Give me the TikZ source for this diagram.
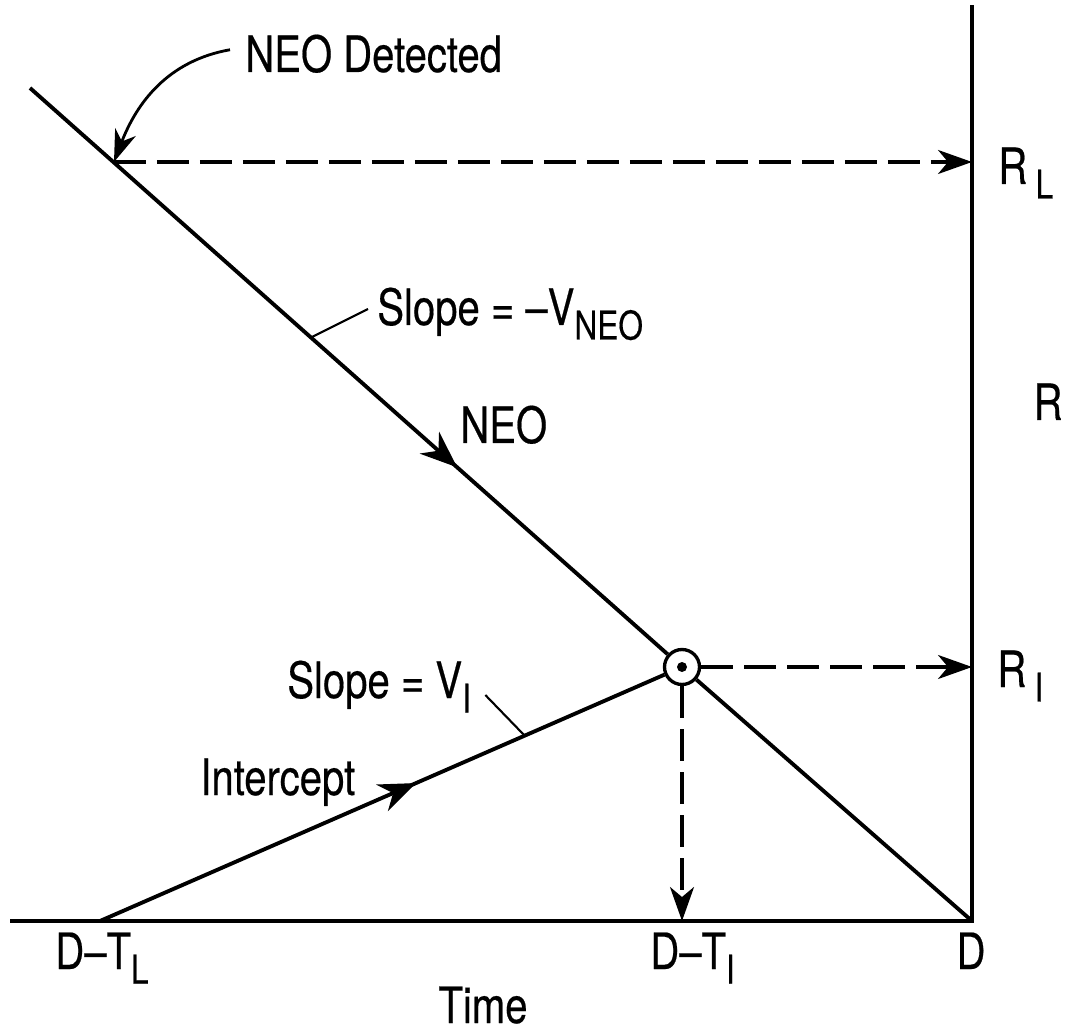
\documentclass[tikz,border=0pt]{standalone}
\usepackage{fontspec}
\setmainfont{TeX Gyre Heros}[FakeStretch=0.8,FakeBold=0.4]
\usetikzlibrary{arrows.meta,decorations.markings}
\newcommand{\lowsub}[1]{\raisebox{-0.29cm}{\fontsize{22.5}{26}\selectfont #1}}

\begin{document}
\begin{tikzpicture}[x=0.02cm,y=0.02cm,
    lbl/.style={font=\fontsize{28.5}{34}\selectfont,inner sep=0pt},
    track/.style={line width=2.2pt},
    axis/.style={line width=1.8pt},
    guide/.style={line width=1.9pt,dash pattern=on 0.64cm off 0.22cm},
    leader/.style={line width=1.2pt},
    tip/.style={-{Stealth[length=0.68cm,width=0.48cm,inset=0.2cm]}},
    midarrow/.style={postaction={decorate},decoration={markings,
      mark=at position #1 with {\arrow{Stealth[length=0.74cm,width=0.58cm,inset=0.24cm]}}}}]
  \useasboundingbox (0,0) rectangle (1067,1035);
  % axes
  \coordinate (top) at (972,1030);
  \coordinate (left) at (10,114);
  \coordinate (D) at (972,114);
  \draw[axis] (left) -- (D) -- (top);
  % paths of NEO and interceptor
  \coordinate (start) at (30,947);
  \coordinate (det) at (114,873);
  \coordinate (TL) at (100,114);
  \node[circle,draw,line width=1.9pt,minimum size=0.7cm,inner sep=0pt] (hit) at (682,368) {};
  \fill (hit) circle (5);
  \draw[track,midarrow=0.67] (start) -- (hit);
  \draw[track] (hit) -- (D);
  \draw[track,midarrow=0.56] (TL) -- (hit);
  % projections on the axes
  \coordinate (RL) at (972,873);
  \coordinate (RI) at (972,368);
  \coordinate (TI) at (682,114);
  \draw[guide,tip] (det) -- (RL);
  \draw[guide,tip] (hit) -- (RI);
  \draw[guide,tip] (hit) -- (TI);
  % labels
  \node[lbl,anchor=base west] (detlbl) at (245,963) {NEO Detected};
  \draw[line width=1.6pt,-{Stealth[length=0.64cm,width=0.44cm,inset=0.2cm]}]
    ([shift={(-15,4)}]detlbl.west) to[out=190,in=69] (det);
  \node[lbl,anchor=base west] (vneo) at (377,710) {Slope = –V\lowsub{NEO}};
  \coordinate (vneofoot) at (312,698);
  \draw[leader] (vneofoot) -- ([shift={(-9,16)}]vneo.base west);
  \node[lbl,anchor=base west] (neo) at (460,592) {NEO};
  \node[lbl,anchor=base west] (vi) at (287,337) {Slope = V\lowsub{I}};
  \coordinate (vifoot) at (525,299);
  \draw[leader] (vifoot) -- ([shift={(14,3)}]vi.base east);
  \node[lbl,anchor=base west] (icpt) at (200,240) {Intercept};
  \node[lbl,anchor=base west] (dtl) at (55,66) {D–T\lowsub{L}};
  \node[lbl,anchor=base west] (dti) at (650,66) {D–T\lowsub{I}};
  \node[lbl,anchor=base] (dd) at (971,66) {D};
  \node[lbl,anchor=base] (time) at (483,12) {Time};
  \node[lbl,anchor=base west] (rl) at (998,851) {R\,\lowsub{L}};
  \node[lbl,anchor=base west] (ri) at (997,348) {R\,\lowsub{I}};
  \node[lbl,anchor=base] (rr) at (1048,615) {R};
\end{tikzpicture}
\end{document}
